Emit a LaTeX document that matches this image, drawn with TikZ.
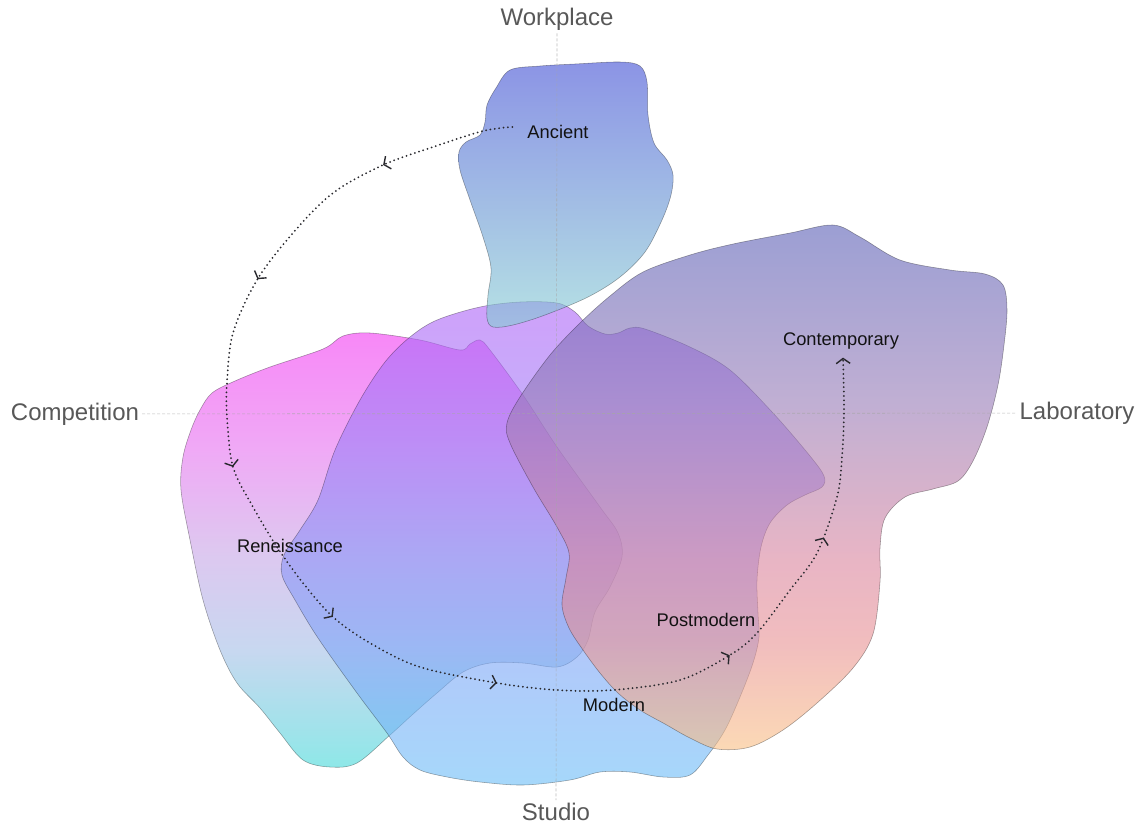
\documentclass[tikz,border=0pt]{standalone}
\usepackage{fontspec}
\setmainfont{Liberation Sans}
\usetikzlibrary{arrows.meta,decorations.markings}

\definecolor{aTop}{RGB}{63,77,213}
\definecolor{aBot}{RGB}{133,207,210}
\definecolor{bA}{RGB}{67,217,217}
\definecolor{bB}{RGB}{163,190,230}
\definecolor{bC}{RGB}{200,163,230}
\definecolor{bD}{RGB}{230,113,240}
\definecolor{bE}{RGB}{243,57,243}
\definecolor{cTop}{RGB}{175,98,247}
\definecolor{cBot}{RGB}{107,190,247}
\definecolor{fA}{RGB}{250,192,132}
\definecolor{fB}{RGB}{232,145,148}
\definecolor{fC}{RGB}{218,132,158}
\definecolor{fD}{RGB}{150,122,183}
\definecolor{fE}{RGB}{90,95,183}
\definecolor{axisgray}{RGB}{88,88,88}
\definecolor{ink}{RGB}{18,18,18}
\definecolor{pathgray}{RGB}{40,40,45}

\pgfdeclareverticalshading{bshade}{100bp}{color(0bp)=(bA); color(25bp)=(bA); color(38.5bp)=(bB); color(50bp)=(bC); color(61.5bp)=(bD); color(75bp)=(bE); color(100bp)=(bE)}
\pgfdeclareverticalshading{fshade}{100bp}{color(0bp)=(fA); color(25bp)=(fA); color(35.5bp)=(fB); color(43bp)=(fC); color(58.3bp)=(fD); color(75bp)=(fE); color(100bp)=(fE)}

\tikzset{
  blob/.style={draw=black, draw opacity=0.35, line width=0.55pt, fill opacity=0.6},
  axislabel/.style={text=axisgray, font=\fontsize{24}{28}\selectfont, inner sep=3pt},
  era/.style={text=ink, font=\fontsize{18.3}{22}\selectfont, inner sep=2pt},
  axisline/.style={draw=gray!70, draw opacity=0.75, line width=0.6pt, dash pattern=on 3pt off 2pt},
  barb/.tip={Straight Barb[length=5pt,width=14pt,line width=1.4pt]},
  eraflow/.style={draw=pathgray, line width=2pt, line cap=round, dash pattern=on 0pt off 4.4pt,
    postaction={decorate, solid},
    decoration={markings,
      mark=at position 0.094 with {\arrow{barb}},
      mark=at position 0.214 with {\arrow{barb}},
      mark=at position 0.349 with {\arrow{barb}},
      mark=at position 0.475 with {\arrow{barb}},
      mark=at position 0.600 with {\arrow{barb}},
      mark=at position 0.767 with {\arrow{barb}},
      mark=at position 0.873 with {\arrow{barb}},
      mark=at position 0.9999 with {\arrow{barb}}}},
}

\begin{document}
\begin{tikzpicture}[x=1pt,y=-1pt]
\useasboundingbox (0,0) rectangle (1139,825);
\fill[white] (0,0) rectangle (1139,825);

% Renaissance blob (pink -> cyan)
\shadedraw[blob, shading=bshade] plot[smooth cycle, tension=0.55] coordinates {
 (343,336) (370,333) (420,340) (460,350) (470,344) (480,340) (490,350) (523,395) (557,447)
 (600,507) (618,533) (622,557) (610,587) (595,612) (588,640) (577,657) (557,667) (523,663)
 (490,663) (463,672) (437,693) (412,715) (390,735) (357,763) (330,767) (303,760) (280,733)
 (260,708) (237,683) (220,650) (203,600) (190,540) (181,490) (183,457) (191,430) (200,410)
 (212,393) (235,381) (270,367) (323,349)};

% Studio blob (lavender -> light blue)
\shadedraw[blob, top color=cTop, bottom color=cBot] plot[smooth cycle, tension=0.55] coordinates {
 (437,320) (480,307) (520,302) (557,303) (575,312) (588,326) (605,334) (618,333) (630,328)
 (645,329) (690,347) (730,370) (773,413) (810,456) (824,476) (822,487) (805,495) (787,505)
 (770,523) (761,547) (757,580) (758,613) (759,637) (753,663) (740,697) (725,730) (708,755)
 (690,775) (663,777) (630,772) (600,772) (570,780) (523,785) (480,782) (447,777) (420,770)
 (403,757) (387,733) (357,693) (318,638) (295,600) (282,575) (284,555) (300,530) (318,500)
 (335,450) (360,400) (385,362) (410,337)};

% Workplace blob (blue -> light cyan)
\shadedraw[blob, top color=aTop, bottom color=aBot] plot[smooth cycle, tension=0.55] coordinates {
 (510,70) (540,66) (575,64) (620,62) (640,66) (647,82) (648,115) (654,143) (667,160)
 (673,175) (671,195) (662,220) (645,252) (620,277) (588,297) (545,315) (513,325) (493,327)
 (487,318) (488,295) (491,268) (483,237) (470,200) (460,170) (459,152) (466,142) (480,135)
 (485,122) (487,105) (496,88)};

% Laboratory blob (violet -> pink -> peach)
\shadedraw[blob, shading=fshade] plot[smooth cycle, tension=0.55] coordinates {
 (580,323) (610,296) (643,272) (690,255) (733,244) (790,233) (833,225) (860,237) (900,260)
 (950,270) (985,274) (1003,285) (1007,310) (1004,345) (998,385) (987,427) (973,461) (958,481)
 (933,489) (905,497) (885,518) (880,548) (880,582) (873,634) (853,668) (817,703) (783,730)
 (750,747) (717,749) (690,738) (665,724) (640,710) (618,693) (600,673) (583,650) (569,628)
 (562,605) (566,578) (569,553) (557,527) (533,487) (510,443) (507,423) (520,397) (550,355)};

% axis labels
\node[axislabel] (workplace) at (557,19) {Workplace};
\node[axislabel] (studio) at (556,812) {Studio};
\node[axislabel] (competition) at (75,414) {Competition};
\node[axislabel] (laboratory) at (1077,413) {Laboratory};

\draw[axisline] (workplace) -- (studio);
\draw[axisline] (competition) -- (laboratory);

% era labels
\node[era] (ancient) at (558,132) {Ancient};
\node[era] (contemporary) at (841,341) {Contemporary};
\node[era] (renaissance) at (290,546) {Reneissance};
\node[era] (postmodern) at (706,620) {Postmodern};
\node[era] (modern) at (614,705) {Modern};

\coordinate (astart) at ([xshift=-13pt,yshift=5pt]ancient.west);
\coordinate (cend) at ([xshift=2pt,yshift=-6pt]contemporary.south);

\draw[eraflow] plot[smooth, tension=0.55] coordinates {
 (astart) (483,131) (433,147) (383,165) (333,193) (293,233) (257,280) (233,333) (227,383)
 (227,417) (233,467) (253,507) (277,547) (303,583) (333,617) (370,643) (420,667) (497,683)
 (557,690) (613,690) (680,680) (730,655) (757,633) (790,590) (817,553) (837,497) (842,457)
 (844,413) (cend)};
\end{tikzpicture}
\end{document}
